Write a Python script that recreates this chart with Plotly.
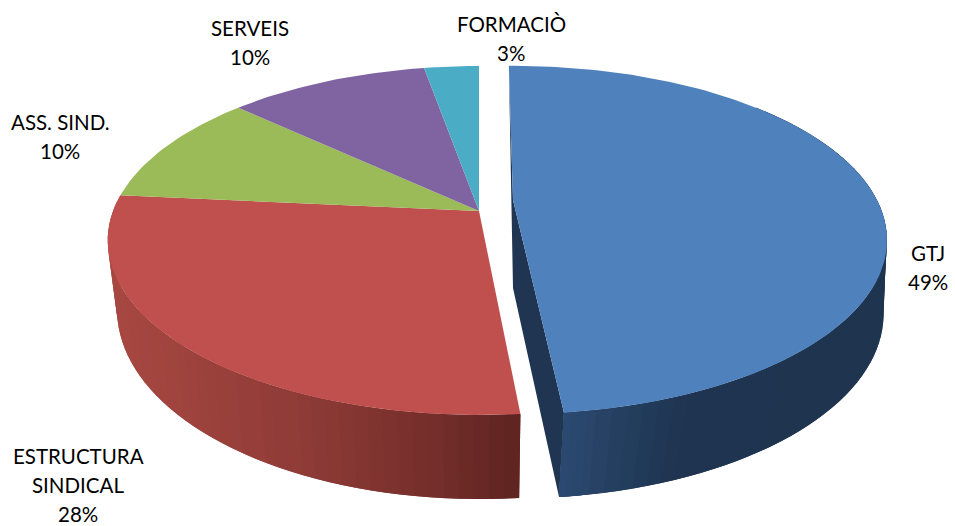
import numpy as np
import plotly.graph_objects as go

categories = ["GTJ", "ESTRUCTURA SINDICAL", "ASS. SIND.", "SERVEIS", "FORMACIÒ"]
values = [48.5, 28.0, 10.4, 10.3, 2.8]
colors = ["#4F81BD", "#C0504D", "#9BBB59", "#8064A2", "#4BACC6"]

label_lines = [["GTJ", "49%"], ["ESTRUCTURA", "SINDICAL", "28%"], ["ASS. SIND.", "10%"], ["SERVEIS", "10%"], ["FORMACIÒ", "3%"]]
label_pos = [(928, 253), (78, 456), (60, 122), (250, 28), (511, 24)]
line_step = 29

# projected discs: apex x, apex y, a, b, perspective
MAIN_TOP = (479, 211, 366, 169.5, 0.169)
MAIN_BOT = (479, 279, 357, 184, 0.164)
BLUE_TOP = (513, 200, 364, 165, 0.23)
BLUE_BOT = (513, 288, 367, 181, 0.14)
BLUE_ROT = -0.8


def rim(disc, deg):
    cx, cy, a, b, p = disc
    t = np.radians(np.asarray(deg, dtype=float))
    u, v = np.sin(t), np.cos(t)
    w = 1 + p * v
    return cx + a * u / w, cy - b * v / w


def arc(d0, d1, step=1.0):
    n = max(int(abs(d1 - d0) / step), 2)
    return np.linspace(d0, d1, n + 1)


def lerp_color(stops, x):
    xs = [s[0] for s in stops]
    return "rgb(%d,%d,%d)" % tuple(np.interp(x, xs, [s[1][k] for s in stops]) for k in range(3))


fig = go.Figure()


def poly(xs, ys, color):
    fig.add_trace(go.Scatter(x=list(xs), y=list(ys), mode="lines", fill="toself", fillcolor=color,
                             line=dict(width=0, color=color), hoverinfo="skip", showlegend=False))


edges = np.concatenate([[0], np.cumsum(values)]) * 3.6
blue_start, blue_end = edges[0] + BLUE_ROT, edges[1] + BLUE_ROT

RED_SHADES = [(110, (168, 72, 66)), (300, (142, 59, 55)), (430, (116, 46, 43)), (520, (92, 34, 32))]
BLUE_SHADES = [(560, (45, 76, 116)), (690, (31, 53, 81)), (890, (31, 52, 79))]


def side(top, bot, d0, d1, shades, step=2.0):
    grid = arc(d0, d1, step)
    for i in range(len(grid) - 1):
        a0, a1 = grid[i], grid[min(i + 2, len(grid) - 1)]
        sub = np.linspace(a0, a1, 4)
        tx, ty = rim(top, sub)
        bx, by = rim(bot, sub[::-1])
        mx, _ = rim(top, [grid[i]])
        poly(np.r_[tx, bx], np.r_[ty, by], lerp_color(shades, mx[0]))


# red side, walking from the far left to the front so that nearer strips overlap
side(MAIN_TOP, MAIN_BOT, edges[2], edges[1], RED_SHADES)

# blue side and cut face
side(BLUE_TOP, BLUE_BOT, 50, blue_end, BLUE_SHADES)
sx, sy = rim(BLUE_TOP, [blue_start])
ex, ey = rim(BLUE_TOP, [blue_end])
bx, by = rim(BLUE_BOT, [blue_end])
poly([BLUE_BOT[0], bx[0], ex[0], BLUE_TOP[0], sx[0]], [BLUE_BOT[1], by[0], ey[0], BLUE_TOP[1], sy[0]], "rgb(31,53,81)")
# redraw front corner strip lighter over the cut face's shared edge
side(BLUE_TOP, BLUE_BOT, blue_end - 4, blue_end, BLUE_SHADES, step=1.0)

# top faces
for i, color in enumerate(colors):
    disc = BLUE_TOP if i == 0 else MAIN_TOP
    rot = BLUE_ROT if i == 0 else 0
    x, y = rim(disc, arc(edges[i] + rot, edges[i + 1] + rot))
    poly(np.r_[disc[0], x, disc[0]], np.r_[disc[1], y, disc[1]], color)

annotations = []
for lines, (lx, ly) in zip(label_lines, label_pos):
    for k, line in enumerate(lines):
        annotations.append(dict(x=lx, y=ly + k * line_step, text=line, showarrow=False, xref="x", yref="y",
                                xanchor="center", yanchor="middle",
                                font=dict(family="Lato, Carlito, sans-serif", size=20.5, color="#000000")))

fig.update_layout(
    width=955, height=526, margin=dict(l=0, r=0, t=0, b=0),
    paper_bgcolor="white", plot_bgcolor="white", showlegend=False, annotations=annotations,
    xaxis=dict(range=[0, 955], visible=False, fixedrange=True),
    yaxis=dict(range=[526, 0], visible=False, fixedrange=True),
)
fig.write_html("out.html", config=dict(displayModeBar=False),
               post_script="document.body.style.margin='0';document.body.style.overflow='hidden';")
